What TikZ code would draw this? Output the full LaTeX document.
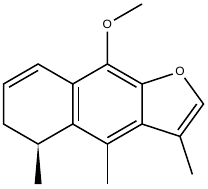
\documentclass[tikz,border=0pt]{standalone}
\usepackage{fontspec}
\setmainfont{Liberation Sans}
\usetikzlibrary{calc}
\begin{document}
\begin{tikzpicture}[x=1pt,y=-1pt,
  bond/.style={line width=1.5pt,line join=miter},
  atom/.style={circle,inner sep=0pt,minimum size=15pt,font=\fontsize{12}{12}\selectfont}]
\useasboundingbox (0,0) rectangle (208,188);
% left ring
\coordinate (c8) at (38.1,64);
\coordinate (c7) at (3.5,84);
\coordinate (c6) at (3.5,124);
\coordinate (c5) at (38.1,144);
\coordinate (c4a) at (72.75,124);
\coordinate (c8a) at (72.75,84);
\coordinate (ca) at (38.1,104);
% middle ring
\coordinate (c9) at (107.4,64);
\coordinate (c9a) at (142,84);
\coordinate (c3a) at (142,124);
\coordinate (c4) at (107.4,144);
\coordinate (cb) at (107.4,104);
% furan
\node[atom] (o1) at (180,71.6) {O};
\coordinate (c2) at (203.5,104);
\coordinate (c3) at (180,136.4);
\coordinate (cc) at (169.5,104);
% substituents
\node[atom] (o9) at (107.4,24) {O};
\coordinate (me9) at (142,4);
\coordinate (me4) at (107.4,184);
\coordinate (me3) at (192.4,174.4);
\coordinate (me5) at (38.1,184);
% skeleton
\draw[bond] (c8a) -- (c8) -- (c7) -- (c6) -- (c5) -- (c4a) -- (c8a) -- (c9) -- (c9a) -- (c3a) -- (c4) -- (c4a);
\draw[bond] (c9a) -- (o1) -- (c2) -- (c3) -- (c3a);
\draw[bond] (c3) -- (me3);
\draw[bond] (c4) -- (me4);
\draw[bond] (c9) -- (o9) -- (me9);
% inner double-bond lines
\draw[bond] ($(c8)!0.16!(ca)$) -- ($(c7)!0.16!(ca)$);
\draw[bond] ($(c9)!0.16!(cb)$) -- ($(c9a)!0.16!(cb)$);
\draw[bond] ($(c8a)!0.16!(cb)$) -- ($(c4a)!0.16!(cb)$);
\draw[bond] ($(c3a)!0.16!(cb)$) -- ($(c4)!0.16!(cb)$);
\draw[bond] ($(c2)!0.2!(cc)$) -- ($(c3)!0.2!(cc)$);
% wedge
\fill (c5) -- ($(me5)+(-3.5,0)$) -- ($(me5)+(3.5,0)$) -- cycle;
\end{tikzpicture}
\end{document}
